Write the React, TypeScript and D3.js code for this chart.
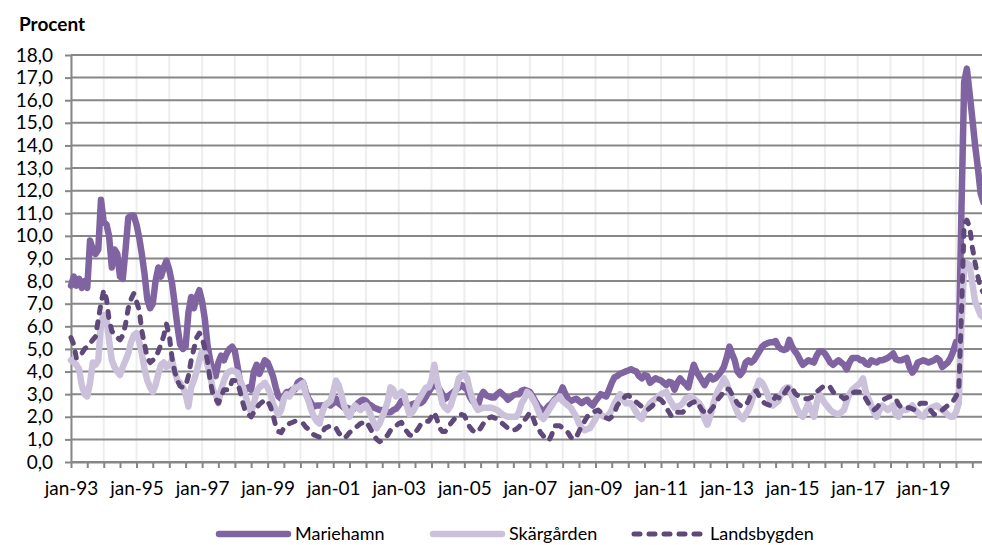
import React, { useEffect, useRef } from "react";
import * as d3 from "d3";

// monthly values, jan-93 .. nov-20, procent
const startMonth = new Date(1993, 0, 1);
const endMonth = new Date(2021, 0, 1);
const seriesNames = ["Mariehamn", "Skärgården", "Landsbygden"];

const mariehamn = [
  7.8, 8.2, 7.8, 8.1, 7.7, 8.0, 7.7, 9.8, 9.4, 9.2, 9.4, 11.6,
  10.6, 10.5, 10.0, 8.6, 9.4, 9.2, 8.2, 8.1, 9.4, 10.8, 10.9, 10.9,
  10.5, 9.9, 9.2, 8.3, 7.2, 6.8, 7.0, 8.0, 8.6, 8.2, 8.6, 8.9,
  8.5, 7.9, 7.0, 6.0, 5.2, 5.0, 5.1, 6.6, 7.3, 6.8, 7.3, 7.6,
  7.1, 6.3, 5.2, 4.5, 4.0, 3.8, 4.4, 4.7, 4.5, 4.8, 5.0, 5.1,
  4.9, 4.2, 3.5, 3.3, 3.2, 3.3, 3.2, 4.0, 4.3, 3.9, 4.2, 4.5,
  4.4, 4.1, 3.8, 3.3, 2.9, 2.8, 2.9, 3.1, 3.1, 3.2, 3.2, 3.5,
  3.6, 3.5, 3.1, 2.8, 2.6, 2.45, 2.5, 2.5, 2.5, 2.5, 2.6, 2.5,
  2.6, 2.8, 2.6, 2.5, 2.4, 2.4, 2.35, 2.3, 2.4, 2.6, 2.7, 2.75,
  2.7, 2.55, 2.5, 2.4, 2.35, 2.3, 2.3, 2.25, 2.2, 2.2, 2.3, 2.35,
  2.5, 2.7, 2.65, 2.55, 2.5, 2.55, 2.6, 2.6, 2.6, 2.7, 2.9, 3.1,
  3.3, 3.4, 3.35, 3.2, 3.0, 2.8, 2.9, 3.0, 3.1, 3.2, 3.3, 3.4,
  3.3, 3.2, 2.9, 2.7, 2.6, 2.5, 2.9, 3.1, 2.95, 2.9, 2.85, 2.85,
  3.0, 3.1, 3.0, 2.9, 2.75, 2.85, 2.95, 3.0, 3.0, 3.15, 3.2, 3.15,
  3.1, 2.9, 2.7, 2.5, 2.35, 2.2, 2.35, 2.5, 2.6, 2.75, 2.85, 3.0,
  3.3, 3.0, 2.8, 2.7, 2.75, 2.8, 2.7, 2.6, 2.7, 2.75, 2.6, 2.5,
  2.7, 2.85, 3.0, 2.95, 2.9, 3.2, 3.5, 3.75, 3.8, 3.9, 3.95, 4.0,
  4.05, 4.1, 4.05, 4.0, 3.8, 3.7, 3.85, 3.8, 3.5, 3.6, 3.7, 3.65,
  3.6, 3.5, 3.4, 3.55, 3.5, 3.2, 3.5, 3.7, 3.55, 3.45, 3.3, 3.8,
  4.3, 4.0, 3.8, 3.6, 3.4, 3.65, 3.8, 3.65, 3.7, 3.85, 4.0, 4.2,
  4.6, 5.1, 4.8, 4.5, 4.0, 3.85, 4.0, 4.4, 4.5, 4.4, 4.5, 4.7,
  4.9, 5.1, 5.2, 5.25, 5.3, 5.3, 5.35, 5.1, 5.0, 4.95, 5.0, 5.4,
  5.1, 4.9, 4.75, 4.5, 4.3, 4.4, 4.5, 4.45, 4.4, 4.7, 4.9, 4.9,
  4.8, 4.6, 4.4, 4.3, 4.4, 4.5, 4.4, 4.3, 4.1, 4.4, 4.6, 4.6,
  4.6, 4.5, 4.5, 4.35, 4.3, 4.5, 4.45, 4.4, 4.5, 4.5, 4.55, 4.6,
  4.7, 4.8, 4.55, 4.5, 4.5, 4.55, 4.6, 4.2, 3.95, 4.1, 4.4, 4.45,
  4.5, 4.45, 4.4, 4.45, 4.5, 4.6, 4.5, 4.2, 4.3, 4.4, 4.6, 4.9,
  5.3, 5.0, 11.0, 16.8, 17.4, 16.3, 15.2, 14.0, 13.0, 11.9, 11.5,
];

const skargarden = [
  4.5, 4.4, 4.3, 4.1, 3.4, 3.0, 2.9, 3.5, 4.4, 4.3, 4.5, 6.1,
  6.5, 6.3, 5.4, 4.5, 4.2, 4.0, 3.85, 4.2, 4.5, 4.8, 5.3, 5.6,
  5.7, 5.3, 4.8, 4.1, 3.6, 3.3, 3.1, 3.4, 3.9, 4.3, 4.4, 4.2,
  4.3, 4.5, 4.0, 3.6, 3.5, 3.3, 3.0, 2.45, 3.3, 3.6, 4.0, 4.5,
  4.9, 4.8, 4.3, 3.8, 3.2, 3.0, 2.6, 3.2, 3.6, 3.9, 4.0, 4.05,
  4.0, 3.95, 3.6, 3.3, 2.9, 2.5, 2.2, 2.6, 3.1, 3.3, 3.4, 3.5,
  3.3, 3.0, 2.6, 2.3, 2.1, 2.3, 2.8, 3.0, 2.9, 3.1, 3.3, 3.3,
  3.4, 3.5, 3.0, 2.7, 2.3, 2.0, 1.8, 1.7, 2.2, 2.5, 2.6, 2.7,
  3.1, 3.6, 3.4, 3.0, 2.5, 2.2, 2.0, 2.3, 2.5, 2.4, 2.3, 2.4,
  2.5, 2.3, 2.0, 1.7, 1.5, 1.7, 2.0, 2.3, 2.7, 3.3, 3.2, 2.9,
  3.0, 3.1, 3.0, 2.5, 2.1, 2.2, 2.4, 2.7, 2.9, 3.1, 3.3, 3.3,
  3.6, 4.3, 3.6, 3.1, 2.6, 2.4, 2.3, 2.5, 2.9, 3.2, 3.7, 3.8,
  3.9, 3.7, 3.2, 2.8, 2.5, 2.3, 2.35, 2.4, 2.4, 2.4, 2.4, 2.35,
  2.3, 2.2, 2.1, 2.05, 2.0, 2.0, 2.0, 2.0, 2.2, 2.6, 2.8, 3.1,
  3.0, 2.8, 2.6, 2.3, 2.0, 1.9, 2.1, 2.3, 2.5, 2.7, 2.8, 2.9,
  2.7, 2.6, 2.5, 2.4, 2.2, 2.0, 1.7, 1.5, 1.4, 1.45, 1.5, 1.7,
  1.9, 2.2, 2.1, 2.0, 2.0, 2.1, 2.3, 2.6, 2.8, 3.0, 2.8, 2.6,
  2.6, 2.6, 2.4, 2.2, 2.0, 1.9, 2.2, 2.4, 2.6, 2.7, 2.8, 2.9,
  3.0, 3.05, 3.1, 2.8, 2.6, 2.4, 2.45, 2.5, 2.6, 2.8, 2.85, 2.9,
  2.8, 2.7, 2.6, 2.4, 1.9, 1.65, 2.0, 2.5, 2.9, 3.2, 3.4, 3.7,
  3.5, 3.1, 2.8, 2.5, 2.2, 2.0, 1.9, 2.1, 2.3, 2.6, 3.0, 3.3,
  3.6, 3.5, 3.3, 3.0, 2.7, 2.5, 2.6, 2.7, 3.0, 3.2, 3.3, 3.3,
  2.9, 2.6, 2.3, 2.1, 2.0, 2.3, 2.6, 2.3, 2.0, 2.6, 3.0, 2.8,
  2.6, 2.45, 2.3, 2.2, 2.15, 2.1, 2.2, 2.3, 2.7, 3.0, 3.2, 3.3,
  3.4, 3.5, 3.7, 3.1, 2.8, 2.5, 2.2, 2.0, 2.3, 2.5, 2.4, 2.3,
  2.4, 2.5, 2.1, 2.0, 2.3, 2.3, 2.3, 2.4, 2.5, 2.3, 2.2, 2.05,
  2.0, 2.2, 2.3, 2.4, 2.45, 2.5, 2.4, 2.3, 2.2, 2.1, 2.0, 2.0,
  2.2, 2.6, 6.0, 8.7, 8.8, 8.7, 7.9, 7.1, 6.8, 6.5, 6.4,
];

const landsbygden = [
  5.5, 5.2, 4.6, 4.6, 4.8, 5.0, 5.1, 5.25, 5.4, 5.55, 6.3, 7.0,
  7.6, 7.2, 6.3, 5.8, 5.6, 5.5, 5.4, 5.6, 6.1, 6.8, 7.2, 7.45,
  7.1, 6.7, 5.8, 5.2, 4.6, 4.4, 4.5, 4.6, 4.9, 5.2, 5.6, 6.1,
  5.6, 4.6, 4.0, 3.6, 3.35, 3.3, 3.35, 3.8, 4.5, 5.0, 5.5, 5.7,
  5.5, 5.0, 4.5, 3.6, 3.0, 2.8, 2.6, 2.9, 3.2, 3.2, 3.2, 3.6,
  3.6, 3.5, 3.1, 2.6, 2.2, 2.1, 2.0, 2.2, 2.4, 2.55, 2.65, 2.75,
  2.7, 2.45, 2.1, 1.6, 1.35, 1.3, 1.5, 1.6, 1.7, 1.75, 1.8, 1.8,
  1.75, 1.7, 1.55, 1.45, 1.3, 1.2, 1.15, 1.1, 1.3, 1.5, 1.55, 1.6,
  1.6, 1.5, 1.3, 1.15, 1.05, 1.15, 1.3, 1.4, 1.5, 1.6, 1.7, 1.75,
  1.8, 1.6, 1.4, 1.15, 1.0, 0.9, 0.95, 1.05, 1.2, 1.4, 1.5, 1.6,
  1.7, 1.75, 1.5, 1.35, 1.2, 1.15, 1.3, 1.45, 1.65, 1.75, 1.8, 1.8,
  2.0, 2.2, 1.9, 1.5, 1.35, 1.35, 1.5, 1.7, 1.85, 2.0, 2.1, 2.1,
  2.05, 1.8, 1.55, 1.4, 1.3, 1.35, 1.5, 1.7, 1.85, 1.95, 2.0, 1.95,
  1.9, 1.8, 1.7, 1.6, 1.5, 1.4, 1.4, 1.45, 1.55, 1.7, 1.85, 2.0,
  2.2, 2.0, 1.7, 1.5, 1.3, 1.15, 1.0, 0.95, 1.2, 1.6, 1.6, 1.6,
  1.5, 1.4, 1.3, 1.1, 1.0, 1.1, 1.35, 1.6, 1.8, 2.0, 2.1, 2.2,
  2.25, 2.3, 2.2, 2.05, 1.95, 1.9, 2.0, 2.2, 2.5, 2.65, 2.8, 2.9,
  2.95, 2.85, 2.75, 2.65, 2.55, 2.45, 2.35, 2.3, 2.4, 2.5, 2.65, 2.8,
  2.75, 2.6, 2.4, 2.2, 2.0, 2.1, 2.2, 2.2, 2.2, 2.35, 2.5, 2.6,
  2.65, 2.7, 2.5, 2.3, 2.2, 2.1, 2.25, 2.4, 2.6, 2.8, 2.95, 3.1,
  3.25, 3.2, 3.0, 2.8, 2.6, 2.5, 2.45, 2.5, 2.7, 3.0, 3.1, 3.15,
  2.9, 2.7, 2.6, 2.55, 2.5, 2.7, 2.9, 2.85, 2.8, 3.0, 3.2, 3.35,
  3.3, 3.05, 2.95, 2.9, 2.85, 2.8, 2.8, 2.85, 2.95, 3.1, 3.2, 3.3,
  3.4, 3.35, 3.3, 3.1, 3.0, 2.95, 2.9, 2.8, 2.85, 3.0, 3.05, 3.1,
  3.1, 3.1, 3.0, 2.8, 2.6, 2.4, 2.3, 2.4, 2.55, 2.7, 2.8, 2.85,
  2.9, 2.85, 2.8, 2.55, 2.4, 2.4, 2.4, 2.4, 2.35, 2.3, 2.45, 2.6,
  2.6, 2.6, 2.4, 2.25, 2.1, 2.15, 2.2, 2.3, 2.4, 2.5, 2.6, 2.7,
  2.9, 3.2, 6.5, 10.5, 10.7, 10.4, 9.5, 8.8, 8.2, 7.7, 7.5,
];

const yTicks = d3.range(0, 19, 1);
const colors = ["#8064a2", "#ccc1da", "#5f497a"];
const widths = [6.5, 6.5, 5];

const sv = d3.timeFormatLocale({
  dateTime: "%A %e %B %Y %X",
  date: "%Y-%m-%d",
  time: "%H:%M:%S",
  periods: ["fm", "em"],
  days: ["söndag", "måndag", "tisdag", "onsdag", "torsdag", "fredag", "lördag"],
  shortDays: ["sön", "mån", "tis", "ons", "tor", "fre", "lör"],
  months: ["januari", "februari", "mars", "april", "maj", "juni", "juli", "augusti", "september", "oktober", "november", "december"],
  shortMonths: ["jan", "feb", "mar", "apr", "maj", "jun", "jul", "aug", "sep", "okt", "nov", "dec"],
});
const fmtMonth = sv.format("%b-%y");
const fmtNum = d3.formatLocale({ decimal: ",", thousands: " ", grouping: [3], currency: ["", " kr"] }).format(".1f");

export default function App() {
  const svgRef = useRef<SVGSVGElement>(null);

  useEffect(() => {
    const w = 982;
    const left = 71;
    const top = 55;
    const bottom = 462;
    const font = "Lato, 'DejaVu Sans', sans-serif";

    const svg = d3.select(svgRef.current);
    svg.selectAll("*").remove();

    const x = d3.scaleTime().domain([startMonth, endMonth]).range([left, left + 28 * 32.78]);
    const y = d3.scaleLinear().domain([0, 18]).range([bottom, top]);

    // vertical gridlines (each january)
    svg.append("g")
      .selectAll("line")
      .data(d3.timeYears(startMonth, endMonth))
      .join("line")
      .attr("x1", d => x(d))
      .attr("x2", d => x(d))
      .attr("y1", top)
      .attr("y2", bottom)
      .attr("stroke", "#eeeeee")
      .attr("stroke-width", 2);

    // horizontal gridlines
    svg.append("g")
      .selectAll("line")
      .data(yTicks)
      .join("line")
      .attr("x1", left)
      .attr("x2", w)
      .attr("y1", d => y(d))
      .attr("y2", d => y(d))
      .attr("stroke", "#878787")
      .attr("stroke-width", 2);

    // axes
    const yAxis = d3.axisLeft(y)
      .tickValues(yTicks)
      .tickFormat(d => fmtNum(d as number))
      .tickSize(6)
      .tickSizeOuter(0)
      .tickPadding(12);
    const gy = svg.append("g").attr("transform", `translate(${left},0)`).call(yAxis);

    const xAxis = d3.axisBottom(x)
      .tickValues(d3.timeMonth.every(6)!.range(startMonth, endMonth))
      .tickFormat(d => {
        const dt = d as Date;
        return dt.getMonth() === 0 && (dt.getFullYear() - 1993) % 2 === 0 ? fmtMonth(dt) : "";
      })
      .tickSize(6)
      .tickSizeOuter(0)
      .tickPadding(14);
    const gx = svg.append("g").attr("transform", `translate(0,${bottom})`).call(xAxis);

    [gx, gy].forEach(g => {
      g.attr("font-family", font).attr("font-size", 19);
      g.selectAll(".domain").attr("stroke", "#878787").attr("stroke-width", 2);
      g.selectAll(".tick line").attr("stroke", "#878787").attr("stroke-width", 2);
      g.selectAll(".tick text").attr("fill", "#000");
    });

    // series
    const line = d3.line<number>()
      .x((d, i) => x(d3.timeMonth.offset(startMonth, i)))
      .y(d => y(d));

    const all = [mariehamn, skargarden, landsbygden];
    all.forEach((vals, k) => {
      svg.append("path")
        .datum(vals)
        .attr("d", line)
        .attr("fill", "none")
        .attr("stroke", colors[k])
        .attr("stroke-width", widths[k])
        .attr("stroke-linejoin", "round")
        .attr("stroke-linecap", "round")
        .attr("stroke-dasharray", k === 2 ? "6 9" : null);
    });

    // y title
    svg.append("text")
      .attr("x", 19)
      .attr("y", 31)
      .attr("font-family", font)
      .attr("font-size", 19)
      .attr("font-weight", "bold")
      .text("Procent");

    // legend
    const legendX = [216, 430, 631];
    const legendY = 534;
    const lg = svg.append("g").attr("font-family", font).attr("font-size", 18);
    seriesNames.forEach((name, k) => {
      lg.append("line")
        .attr("x1", legendX[k] + 3)
        .attr("x2", legendX[k] + 72)
        .attr("y1", legendY)
        .attr("y2", legendY)
        .attr("stroke", colors[k])
        .attr("stroke-width", widths[k])
        .attr("stroke-linecap", "round")
        .attr("stroke-dasharray", k === 2 ? "6 9" : null);
      lg.append("text")
        .attr("x", legendX[k] + 79)
        .attr("y", legendY)
        .attr("dy", "0.35em")
        .text(name);
    });
  }, []);

  return (
    <div className="Graph">
      <svg
        ref={svgRef}
        width={982}
        height={545}
        style={{ position: "absolute", left: 0, top: 0, background: "#fff" }}
      ></svg>
    </div>
  );
}
